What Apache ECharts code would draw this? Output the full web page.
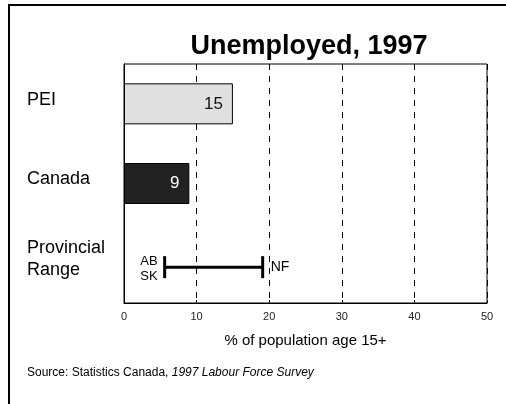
<!DOCTYPE html>
<html>
<head>
<meta charset="utf-8">
<script src="https://cdn.jsdelivr.net/npm/echarts@6/dist/echarts.min.js"></script>
<style>
html,body{margin:0;padding:0;background:#fff;}
#chart{width:506px;height:404px;}
</style>
</head>
<body>
<div id="chart"></div>
<script>
var categories = ['PEI', 'Canada', 'Provincial\nRange'];
var barValues = [15, 9];
var barColors = ['#e0e0e0', '#222222'];
var barLabelColors = ['#111111', '#ffffff'];
var rangeLow = 5.6;
var rangeHigh = 19.1;
var rangeLowLabel = 'AB\nSK';
var rangeHighLabel = 'NF';
var xTicks = [0, 10, 20, 30, 40, 50];

var FONT = '"Liberation Sans", Arial, sans-serif';

var chart = echarts.init(document.getElementById('chart'), null, {renderer: 'canvas'});

var barData = barValues.map(function (v, i) {
  return {
    value: v,
    itemStyle: {color: barColors[i], borderColor: '#000', borderWidth: 1},
    label: {color: barLabelColors[i]}
  };
});

var option = {
  animation: false,
  backgroundColor: '#fff',
  title: {
    text: 'Unemployed, 1997',
    left: 304,
    textAlign: 'center',
    top: 28,
    textStyle: {fontFamily: FONT, fontSize: 27, fontWeight: 'bold', color: '#000'}
  },
  grid: {left: 124, right: 19, top: 64, bottom: 101, show: true, borderColor: '#000', borderWidth: 1, backgroundColor: 'transparent'},
  xAxis: {
    type: 'value',
    min: xTicks[0],
    max: xTicks[xTicks.length - 1],
    interval: 10,
    axisLine: {show: true, lineStyle: {color: '#000', width: 1}},
    axisTick: {show: true, inside: true, length: 3, lineStyle: {color: '#000'}},
    axisLabel: {fontFamily: FONT, fontSize: 11, color: '#222', margin: 8},
    splitLine: {show: true, lineStyle: {color: '#000', width: 1, type: [6, 6]}},
    name: '% of population age 15+',
    nameLocation: 'middle',
    nameGap: 30,
    nameTextStyle: {fontFamily: FONT, fontSize: 15, color: '#000'}
  },
  yAxis: {
    type: 'category',
    inverse: true,
    data: categories,
    axisLine: {show: true, lineStyle: {color: '#000'}},
    axisTick: {show: false},
    axisLabel: {
      align: 'left', margin: 97,
      formatter: function (v) {
        var key = v.indexOf('\n') >= 0 ? 'b' : 'a';
        return v.split('\n').map(function (s) { return '{' + key + '|' + s + '}'; }).join('\n');
      },
      rich: {
        a: {fontFamily: FONT, fontSize: 18, color: '#000', lineHeight: 22, padding: [0, 0, 8, 0]},
        b: {fontFamily: FONT, fontSize: 18, color: '#000', lineHeight: 22, padding: [0, 0, 9, 0]}
      }
    }
  },
  series: [
    {
      type: 'bar',
      data: barData,
      barWidth: 41,
      label: {show: true, position: 'insideRight', distance: 10, fontFamily: FONT, fontSize: 17},
      z: 3
    },
    {
      type: 'custom',
      data: [[rangeLow, rangeHigh, 2]],
      encode: {x: [0, 1], y: 2},
      z: 4,
      renderItem: function (params, api) {
        var y = api.coord([0, api.value(2)])[1] + 4;
        var x1 = api.coord([api.value(0), 0])[0];
        var x2 = api.coord([api.value(1), 0])[0];
        var st = {stroke: '#000', lineWidth: 3};
        return {
          type: 'group',
          children: [
            {type: 'line', shape: {x1: x1, y1: y, x2: x2, y2: y}, style: st},
            {type: 'line', shape: {x1: x1, y1: y - 11, x2: x1, y2: y + 11}, style: st},
            {type: 'line', shape: {x1: x2, y1: y - 11, x2: x2, y2: y + 11}, style: st},
            {type: 'text', style: {text: rangeLowLabel, x: x1 - 7, y: y + 2, align: 'right', verticalAlign: 'middle',
              font: '13px ' + FONT, lineHeight: 15, fill: '#000'}},
            {type: 'text', style: {text: rangeHighLabel, x: x2 + 8, y: y, align: 'left', verticalAlign: 'middle',
              font: '14px ' + FONT, fill: '#000'}}
          ]
        };
      }
    }
  ],
  graphic: [
    {
      type: 'polyline',
      shape: {points: [[9, 404], [9, 5], [506, 5]]},
      style: {stroke: '#000', lineWidth: 2, fill: null}
    },
    {
      type: 'text',
      left: 27,
      top: 367,
      style: {
        text: '{n|Source: Statistics Canada, }{i|1997 Labour Force Survey}',
        rich: {
          n: {fontFamily: FONT, fontSize: 12, fill: '#000'},
          i: {fontFamily: FONT, fontSize: 12, fontStyle: 'italic', fill: '#000'}
        }
      }
    }
  ]
};

chart.setOption(option);
</script>
</body>
</html>
